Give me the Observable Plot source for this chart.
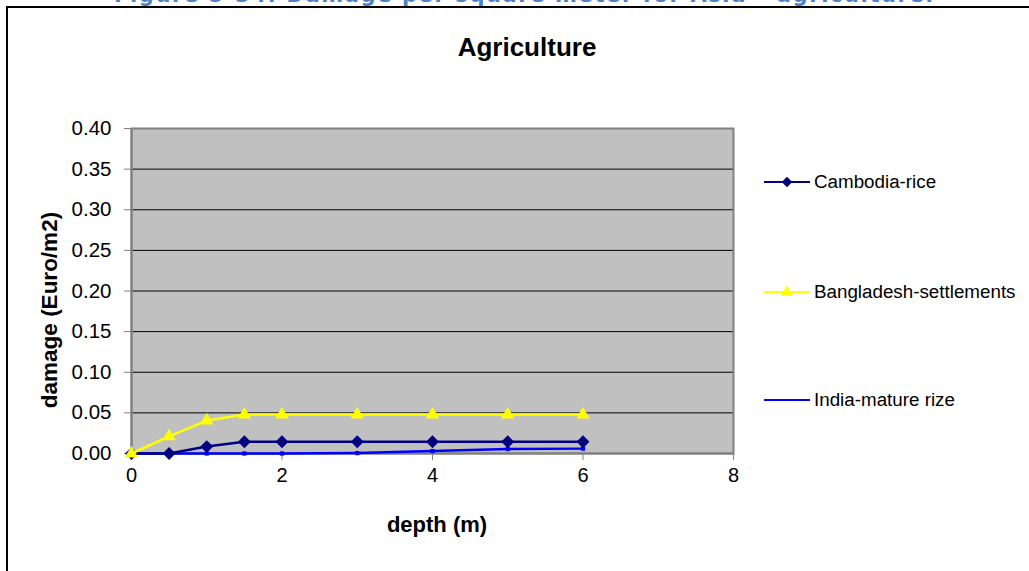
<!DOCTYPE html>
<html>
<head>
<meta charset="utf-8">
<script src="https://cdn.jsdelivr.net/npm/d3@7"></script>
<script src="https://cdn.jsdelivr.net/npm/@observablehq/plot@0.6"></script>
<style>
  html, body { margin: 0; padding: 0; background: #fff; }
  #wrap { position: relative; width: 1029px; height: 571px; overflow: hidden; background: #fff; font-family: "Liberation Sans", Arial, sans-serif; }
  #caption { position: absolute; left: 10px; width: 1029px; top: -15px; line-height: 21px; text-align: center; font-family: "DejaVu Sans", Verdana, sans-serif; font-weight: bold; font-size: 21px; letter-spacing: 1.6px; color: #4f81c7; white-space: nowrap; }
  #border { position: absolute; left: 6px; top: 6px; width: 1100px; height: 700px; border: 2px solid #000; box-sizing: border-box; }
  #chart { position: absolute; left: 0; top: 0; }
  #title { position: absolute; left: 327px; width: 400px; top: 32px; text-align: center; font-weight: bold; font-size: 26px; line-height: 30px; color: #000; }
  #xlabel { position: absolute; left: 337px; width: 200px; top: 512px; text-align: center; font-weight: bold; font-size: 22px; line-height: 26px; }
  #ylabel { position: absolute; left: -50px; width: 200px; top: 297px; text-align: center; font-weight: bold; font-size: 22.5px; line-height: 26px; transform: rotate(-90deg); transform-origin: 100px 13px; white-space: nowrap; }
  .leg { position: absolute; left: 764px; height: 20px; display: flex; align-items: center; font-size: 18.8px; color: #000; white-space: nowrap; }
  .leg svg { margin-right: 4px; }
</style>
</head>
<body>
<div id="wrap">
  <div id="caption">Figure 5-34: Damage per square meter for Asia – agriculture.</div>
  <div id="border"></div>
  <div id="chart"></div>
  <div id="title">Agriculture</div>
  <div id="xlabel">depth (m)</div>
  <div id="ylabel">damage (Euro/m2)</div>
  <div id="legend"></div>
</div>
<script>
// ---- data ----
const depth = [0, 0.5, 1, 1.5, 2, 3, 4, 5, 6];
const seriesNames = ["Cambodia-rice", "Bangladesh-settlements", "India-mature rize"];
const cambodiaRice = [0, 0, 0.0085, 0.0145, 0.0145, 0.0145, 0.0145, 0.0145, 0.0145];
const bangladeshSettlements = [0, 0.021, 0.0405, 0.048, 0.048, 0.048, 0.048, 0.048, 0.048];
const indiaMatureRize = [0, 0, 0, 0, 0, 0.0005, 0.003, 0.0055, 0.006];
const xTicks = [0, 2, 4, 6, 8];
const yTicks = [0, 0.05, 0.10, 0.15, 0.20, 0.25, 0.30, 0.35, 0.40];
const seriesColors = ["#000080", "#ffff00", "#0000ff"];

const valuesBySeries = [cambodiaRice, bangladeshSettlements, indiaMatureRize];
const rows = [];
seriesNames.forEach((name, i) => {
  depth.forEach((d, j) => rows.push({series: name, depth: d, damage: valuesBySeries[i][j]}));
});
const cam = rows.filter(r => r.series === seriesNames[0]);
const ban = rows.filter(r => r.series === seriesNames[1]);
const ind = rows.filter(r => r.series === seriesNames[2]);

const plot = Plot.plot({
  width: 1029,
  height: 571,
  marginLeft: 131,
  marginRight: 296,
  marginTop: 128,
  marginBottom: 118,
  x: {domain: [0, 8]},
  y: {domain: [0, 0.4]},
  style: {fontFamily: "'Liberation Sans', Arial, sans-serif", fontSize: "20px", color: "#000", background: "transparent", overflow: "visible"},
  marks: [
    Plot.frame({fill: "#c0c0c0", stroke: null}),
    Plot.ruleY(yTicks.slice(1, -1), {stroke: "#000", strokeWidth: 1}),
    Plot.frame({stroke: "#808080", strokeWidth: 2}),
    Plot.axisY(yTicks, {tickSize: 7, tickPadding: 13, tickFormat: d3.format(".2f"), stroke: "#808080", label: null, fontSize: 20.5}),
    Plot.axisX(xTicks, {tickSize: 7, tickPadding: 7, label: null, stroke: "#808080", fontSize: 20}),
    Plot.ruleY([0], {stroke: "#808080", strokeWidth: 2}),
    Plot.ruleX([0], {stroke: "#808080", strokeWidth: 2}),
    // India
    Plot.line(ind, {x: "depth", y: "damage", stroke: seriesColors[2], strokeWidth: 2.5}),
    Plot.dot(ind, {x: "depth", y: "damage", symbol: "square", r: 2.4, fill: seriesColors[2], stroke: null}),
    // Cambodia
    Plot.line(cam, {x: "depth", y: "damage", stroke: seriesColors[0], strokeWidth: 2.5}),
    Plot.dot(cam, {x: "depth", y: "damage", symbol: "diamond2", r: 5.8, fill: seriesColors[0], stroke: null}),
    // Bangladesh
    Plot.line(ban, {x: "depth", y: "damage", stroke: seriesColors[1], strokeWidth: 2.5}),
    Plot.dot(ban, {x: "depth", y: "damage", symbol: "triangle", r: 5, fill: seriesColors[1], stroke: null})
  ]
});
document.getElementById("chart").appendChild(plot);

// ---- legend ----
const legendY = [172, 282, 390];
const legend = document.getElementById("legend");
seriesNames.forEach((name, i) => {
  const div = document.createElement("div");
  div.className = "leg";
  div.style.top = legendY[i] + "px";
  const sym = d3.symbol().type(i === 0 ? d3.symbolDiamond2 : d3.symbolTriangle).size(i === 0 ? 70 : 60)();
  const marker = i < 2 ? `<path d="${sym}" transform="translate(23,10)" fill="${seriesColors[i]}"/>` : "";
  div.innerHTML = `<svg width="46" height="20"><line x1="0" x2="46" y1="10" y2="10" stroke="${seriesColors[i]}" stroke-width="2"/>${marker}</svg><span>${name}</span>`;
  legend.appendChild(div);
});
</script>
</body>
</html>
